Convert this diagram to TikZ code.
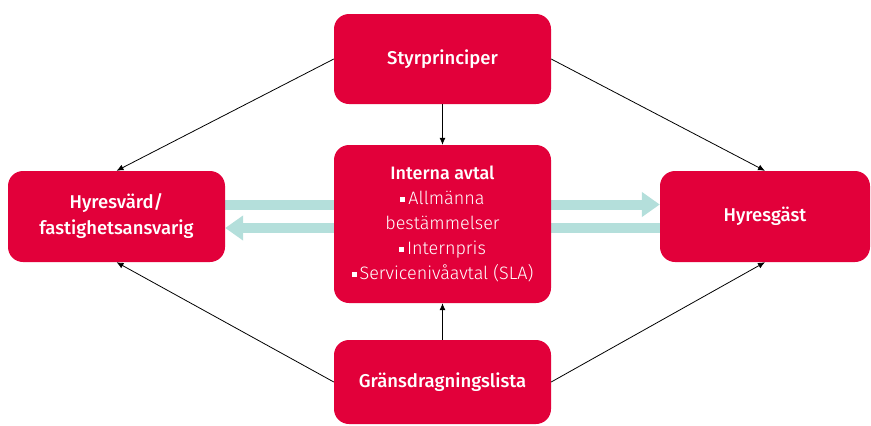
\documentclass[tikz,border=0pt]{standalone}
\usepackage{fontspec}
\setmainfont{Fira Sans}[BoldFont={Fira Sans Medium}]
\newfontfamily\lightfont{Fira Sans Light}
\usepackage{tikz}
\usetikzlibrary{arrows.meta,backgrounds}
\definecolor{BoxRed}{RGB}{226, 0, 58}
\definecolor{FlowTeal}{RGB}{180, 223, 219}
\newcommand{\itemsq}{\rule[0.25ex]{0.28em}{0.28em}\,}

\begin{document}
\begin{tikzpicture}[x=1pt, y=-1pt,
    box/.style={fill=BoxRed, text=white, rounded corners=15pt, align=center,
        minimum width=217pt, font=\fontsize{18.5}{26}\selectfont},
    link/.style={black, line width=0.8pt, -{Latex[length=7pt,width=6pt]}},
    flow/.style={FlowTeal, line width=10pt, -{Triangle[length=18pt,width=24pt]}}]
    \useasboundingbox (0,0) rectangle (871,426);
    \node[box, minimum height=90pt] (styr) at (442.5,59) {\bfseries Styrprinciper};
    \node[box, minimum height=158pt, font=\fontsize{18}{25}\selectfont] (interna) at (442.5,224)
        {\textbf{Interna avtal}\\
         \lightfont\itemsq Allmänna\\ \lightfont bestämmelser\\ \lightfont\itemsq Internpris\\ \lightfont\itemsq Servicenivåavtal (SLA)};
    \node[box, minimum height=84pt] (grans) at (442.5,382) {\bfseries Gränsdragningslista};
    \node[box, minimum height=91pt] (hyresvard) at (116.5,216.5) {\bfseries Hyresvärd/\\ \bfseries fastighetsansvarig};
    \node[box, minimum height=91pt, minimum width=210pt] (hyresgast) at (765,216.5) {\bfseries Hyresgäst};
    % flows behind the middle box
    \begin{scope}[on background layer]
        \draw[flow] ([yshift=12pt]hyresvard.east) -- ([yshift=12pt]hyresgast.west);
        \draw[flow] ([yshift=-11.5pt]hyresgast.west) -- ([yshift=-11.5pt]hyresvard.east);
    \end{scope}
    \draw[link] (styr.west) -- (hyresvard.north);
    \draw[link] (styr.east) -- (hyresgast.north);
    \draw[link] (styr) -- (interna);
    \draw[link] (grans) -- (interna);
    \draw[link] (grans.west) -- (hyresvard.south);
    \draw[link] (grans.east) -- (hyresgast.south);
\end{tikzpicture}
\end{document}
